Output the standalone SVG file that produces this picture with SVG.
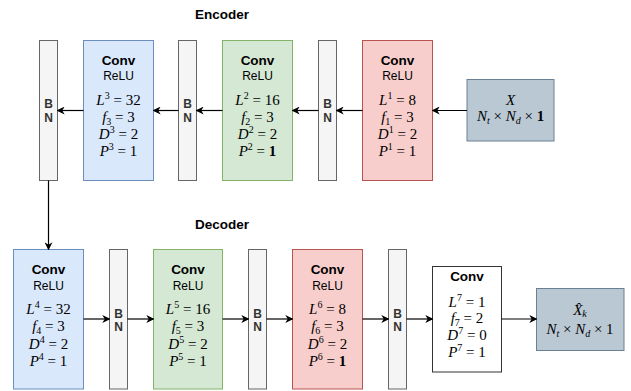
<svg xmlns="http://www.w3.org/2000/svg" width="631" height="391" viewBox="0 0 631 391">
<style>
.bn{fill:#f5f5f5;stroke:#666666;stroke-width:1}
.blue{fill:#dae8fc;stroke:#6c8ebf;stroke-width:1}
.green{fill:#d5e8d4;stroke:#82b366;stroke-width:1}
.red{fill:#f8cecc;stroke:#b85450;stroke-width:1}
.white{fill:#ffffff;stroke:#333333;stroke-width:1}
.io{fill:#bac8d3;stroke:#6a8094;stroke-width:1}
.sans{font-family:"Liberation Sans",Arial,sans-serif;fill:#000;text-anchor:middle}
.title{font-size:13.5px;font-weight:bold}
.conv{font-size:13.5px;font-weight:bold}
.relu{font-size:12px}
.bnt{font-size:12px;font-weight:bold;fill:#333}
.m{font-family:"Liberation Serif","Times New Roman",serif;font-size:15px;fill:#000;text-anchor:middle}
.i{font-style:italic}
.s{font-size:10px}
.b{font-weight:bold}
.c{fill:none;stroke:#000;stroke-width:1.2;marker-end:url(#ah)}
</style>
<defs>
<marker id="ah" viewBox="0 0 10 10" refX="9" refY="5" markerWidth="8" markerHeight="8" markerUnits="userSpaceOnUse" orient="auto">
<path d="M0,0 L10,5 L0,10 L3,5 Z" fill="#000"/>
</marker>
</defs>

<text class="sans title" x="222" y="19">Encoder</text>
<text class="sans title" x="222" y="229">Decoder</text>

<g id="bn1"><rect class="bn" x="39.5" y="40.5" width="18" height="140"/><text class="sans bnt" x="48.5" y="107.5">B</text><text class="sans bnt" x="48.5" y="121.5">N</text></g>
<g id="enc-conv3">
<rect class="blue" x="83.5" y="40.5" width="70" height="140"/>
<text class="sans conv" x="118.5" y="65">Conv</text>
<text class="sans relu" x="118.5" y="80">ReLU</text>
<text class="m" x="118.5" y="105"><tspan class="i">L</tspan><tspan class="s" dy="-6">3</tspan><tspan dy="6"> = 32</tspan></text>
<text class="m" x="118.5" y="121.5"><tspan class="i">f</tspan><tspan class="s" dy="3">3</tspan><tspan dy="-3"> = 3</tspan></text>
<text class="m" x="118.5" y="139"><tspan class="i">D</tspan><tspan class="s" dy="-6">3</tspan><tspan dy="6"> = 2</tspan></text>
<text class="m" x="118.5" y="156"><tspan class="i">P</tspan><tspan class="s" dy="-6">3</tspan><tspan dy="6"> = 1</tspan></text>
</g>
<g id="bn2"><rect class="bn" x="178.5" y="40.5" width="18" height="140"/><text class="sans bnt" x="187.5" y="107.5">B</text><text class="sans bnt" x="187.5" y="121.5">N</text></g>
<g id="enc-conv2">
<rect class="green" x="222.5" y="40.5" width="70" height="140"/>
<text class="sans conv" x="257.5" y="65">Conv</text>
<text class="sans relu" x="257.5" y="80">ReLU</text>
<text class="m" x="257.5" y="105"><tspan class="i">L</tspan><tspan class="s" dy="-6">2</tspan><tspan dy="6"> = 16</tspan></text>
<text class="m" x="257.5" y="121.5"><tspan class="i">f</tspan><tspan class="s" dy="3">2</tspan><tspan dy="-3"> = 3</tspan></text>
<text class="m" x="257.5" y="139"><tspan class="i">D</tspan><tspan class="s" dy="-6">2</tspan><tspan dy="6"> = 2</tspan></text>
<text class="m" x="257.5" y="156"><tspan class="i">P</tspan><tspan class="s" dy="-6">2</tspan><tspan dy="6"> = </tspan><tspan class="b">1</tspan></text>
</g>
<g id="bn3"><rect class="bn" x="318.5" y="40.5" width="18" height="140"/><text class="sans bnt" x="327.5" y="107.5">B</text><text class="sans bnt" x="327.5" y="121.5">N</text></g>
<g id="enc-conv1">
<rect class="red" x="362.5" y="40.5" width="70" height="140"/>
<text class="sans conv" x="397.5" y="65">Conv</text>
<text class="sans relu" x="397.5" y="80">ReLU</text>
<text class="m" x="397.5" y="105"><tspan class="i">L</tspan><tspan class="s" dy="-6">1</tspan><tspan dy="6"> = 8</tspan></text>
<text class="m" x="397.5" y="121.5"><tspan class="i">f</tspan><tspan class="s" dy="3">1</tspan><tspan dy="-3"> = 3</tspan></text>
<text class="m" x="397.5" y="139"><tspan class="i">D</tspan><tspan class="s" dy="-6">1</tspan><tspan dy="6"> = 2</tspan></text>
<text class="m" x="397.5" y="156"><tspan class="i">P</tspan><tspan class="s" dy="-6">1</tspan><tspan dy="6"> = 1</tspan></text>
</g>
<g id="input-x">
<rect class="io" x="467" y="79.5" width="87" height="61.5"/>
<text class="m i" x="510.5" y="105">X</text>
<text class="m" x="510.5" y="121"><tspan class="i">N</tspan><tspan class="s i" dy="3">t</tspan><tspan dy="-3"> × </tspan><tspan class="i">N</tspan><tspan class="s i" dy="3">d</tspan><tspan dy="-3"> × </tspan><tspan class="b">1</tspan></text>
</g>

<g id="dec-conv4">
<rect class="blue" x="13.5" y="249.5" width="70" height="139.5"/>
<text class="sans conv" x="48.5" y="274">Conv</text>
<text class="sans relu" x="48.5" y="289.5">ReLU</text>
<text class="m" x="48.5" y="314"><tspan class="i">L</tspan><tspan class="s" dy="-6">4</tspan><tspan dy="6"> = 32</tspan></text>
<text class="m" x="48.5" y="330.5"><tspan class="i">f</tspan><tspan class="s" dy="3">4</tspan><tspan dy="-3"> = 3</tspan></text>
<text class="m" x="48.5" y="348.5"><tspan class="i">D</tspan><tspan class="s" dy="-6">4</tspan><tspan dy="6"> = 2</tspan></text>
<text class="m" x="48.5" y="365.5"><tspan class="i">P</tspan><tspan class="s" dy="-6">4</tspan><tspan dy="6"> = 1</tspan></text>
</g>
<g id="bn4"><rect class="bn" x="109.5" y="249.5" width="18" height="139.5"/><text class="sans bnt" x="118.5" y="317.5">B</text><text class="sans bnt" x="118.5" y="331">N</text></g>
<g id="dec-conv5">
<rect class="green" x="153.5" y="249.5" width="69" height="139.5"/>
<text class="sans conv" x="188" y="274">Conv</text>
<text class="sans relu" x="188" y="289.5">ReLU</text>
<text class="m" x="188" y="314"><tspan class="i">L</tspan><tspan class="s" dy="-6">5</tspan><tspan dy="6"> = 16</tspan></text>
<text class="m" x="188" y="330.5"><tspan class="i">f</tspan><tspan class="s" dy="3">5</tspan><tspan dy="-3"> = 3</tspan></text>
<text class="m" x="188" y="348.5"><tspan class="i">D</tspan><tspan class="s" dy="-6">5</tspan><tspan dy="6"> = 2</tspan></text>
<text class="m" x="188" y="365.5"><tspan class="i">P</tspan><tspan class="s" dy="-6">5</tspan><tspan dy="6"> = 1</tspan></text>
</g>
<g id="bn5"><rect class="bn" x="248.5" y="249.5" width="18" height="139.5"/><text class="sans bnt" x="257.5" y="317.5">B</text><text class="sans bnt" x="257.5" y="331">N</text></g>
<g id="dec-conv6">
<rect class="red" x="292.5" y="249.5" width="70" height="139.5"/>
<text class="sans conv" x="327.5" y="274">Conv</text>
<text class="sans relu" x="327.5" y="289.5">ReLU</text>
<text class="m" x="327.5" y="314"><tspan class="i">L</tspan><tspan class="s" dy="-6">6</tspan><tspan dy="6"> = 8</tspan></text>
<text class="m" x="327.5" y="330.5"><tspan class="i">f</tspan><tspan class="s" dy="3">6</tspan><tspan dy="-3"> = 3</tspan></text>
<text class="m" x="327.5" y="348.5"><tspan class="i">D</tspan><tspan class="s" dy="-6">6</tspan><tspan dy="6"> = 2</tspan></text>
<text class="m" x="327.5" y="365.5"><tspan class="i">P</tspan><tspan class="s" dy="-6">6</tspan><tspan dy="6"> = </tspan><tspan class="b">1</tspan></text>
</g>
<g id="bn6"><rect class="bn" x="388.5" y="249.5" width="18" height="139.5"/><text class="sans bnt" x="397.5" y="317.5">B</text><text class="sans bnt" x="397.5" y="331">N</text></g>
<g id="dec-conv7">
<rect class="white" x="432.5" y="266.5" width="69" height="105.5"/>
<text class="sans conv" x="467" y="281">Conv</text>
<text class="m" x="467" y="306.5"><tspan class="i">L</tspan><tspan class="s" dy="-6">7</tspan><tspan dy="6"> = 1</tspan></text>
<text class="m" x="467" y="322.5"><tspan class="i">f</tspan><tspan class="s" dy="3">7</tspan><tspan dy="-3"> = 2</tspan></text>
<text class="m" x="467" y="340"><tspan class="i">D</tspan><tspan class="s" dy="-6">7</tspan><tspan dy="6"> = 0</tspan></text>
<text class="m" x="467" y="357"><tspan class="i">P</tspan><tspan class="s" dy="-6">7</tspan><tspan dy="6"> = 1</tspan></text>
</g>
<g id="output-xhat">
<rect class="io" x="536.5" y="288.5" width="87.5" height="62"/>
<text class="m" x="580" y="315"><tspan class="i">X̂</tspan><tspan class="s i" dy="2">k</tspan></text>
<text class="m" x="580" y="334"><tspan class="i">N</tspan><tspan class="s i" dy="3">t</tspan><tspan dy="-3"> × </tspan><tspan class="i">N</tspan><tspan class="s i" dy="3">d</tspan><tspan dy="-3"> × 1</tspan></text>
</g>

<g id="connectors">
<line class="c" x1="467" y1="110.5" x2="432.5" y2="110.5"/>
<line class="c" x1="362.5" y1="110.5" x2="336.5" y2="110.5"/>
<line class="c" x1="318.5" y1="110.5" x2="292.5" y2="110.5"/>
<line class="c" x1="222.5" y1="110.5" x2="196.5" y2="110.5"/>
<line class="c" x1="178.5" y1="110.5" x2="153.5" y2="110.5"/>
<line class="c" x1="83.5" y1="110.5" x2="57.5" y2="110.5"/>
<line class="c" x1="48.5" y1="180.5" x2="48.5" y2="249.5"/>
<line class="c" x1="83.5" y1="319" x2="109.5" y2="319"/>
<line class="c" x1="127.5" y1="319" x2="153.5" y2="319"/>
<line class="c" x1="222.5" y1="319" x2="248.5" y2="319"/>
<line class="c" x1="266.5" y1="319" x2="292.5" y2="319"/>
<line class="c" x1="362.5" y1="319" x2="388.5" y2="319"/>
<line class="c" x1="406.5" y1="319" x2="432.5" y2="319"/>
<line class="c" x1="501.5" y1="319" x2="536.5" y2="319"/>
</g>
</svg>
